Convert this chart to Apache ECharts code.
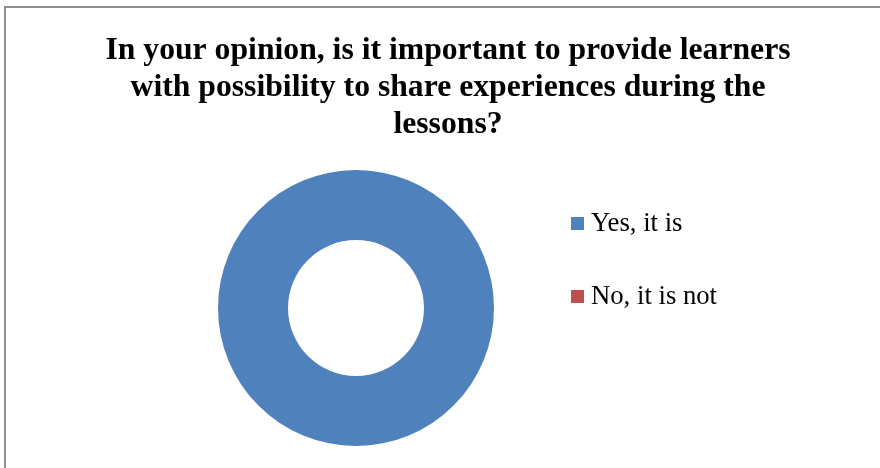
<!DOCTYPE html>
<html>
<head>
<meta charset="utf-8">
<script src="https://cdn.jsdelivr.net/npm/echarts@6/dist/echarts.min.js"></script>
<style>
  html, body { margin: 0; padding: 0; background: #fff; }
  #chart { width: 880px; height: 468px; }
</style>
</head>
<body>
<div id="chart"></div>
<script>
const titleText = 'In your opinion, is it important to provide learners\nwith possibility to share experiences during the\nlessons?'
const categories = ['Yes, it is', 'No, it is not']
const values = [100, 0]
const colors = ['#4F81BD', '#C0504D']

const chart = echarts.init(document.getElementById('chart'))

const option = {
  backgroundColor: '#fff',
  animation: false,
  color: colors,
  title: {
    text: titleText,
    left: 443,
    top: 27,
    textAlign: 'center',
    textStyle: {
      fontFamily: 'Liberation Serif',
      fontWeight: 'bold',
      fontSize: 31.7,
      lineHeight: 37,
      color: '#000'
    }
  },
  legend: {
    orient: 'vertical',
    left: 566,
    top: 205,
    icon: 'rect',
    itemWidth: 13,
    itemHeight: 13,
    itemGap: 46,
    data: categories,
    textStyle: {
      fontFamily: 'Liberation Serif',
      fontSize: 26.7,
      color: '#000',
      padding: [0, 0, 0, 2]
    }
  },
  graphic: [{
    type: 'rect',
    shape: { x: 5, y: 7, width: 900, height: 500 },
    style: { fill: 'none', stroke: '#8e8e8e', lineWidth: 2 },
    silent: true
  }],
  series: [{
    type: 'pie',
    center: [356, 308],
    radius: [68, 138],
    label: { show: false },
    labelLine: { show: false },
    emphasis: { disabled: true },
    itemStyle: { borderWidth: 0 },
    data: categories.map((name, i) => ({ name, value: values[i] }))
  }]
}

chart.setOption(option)
</script>
</body>
</html>
